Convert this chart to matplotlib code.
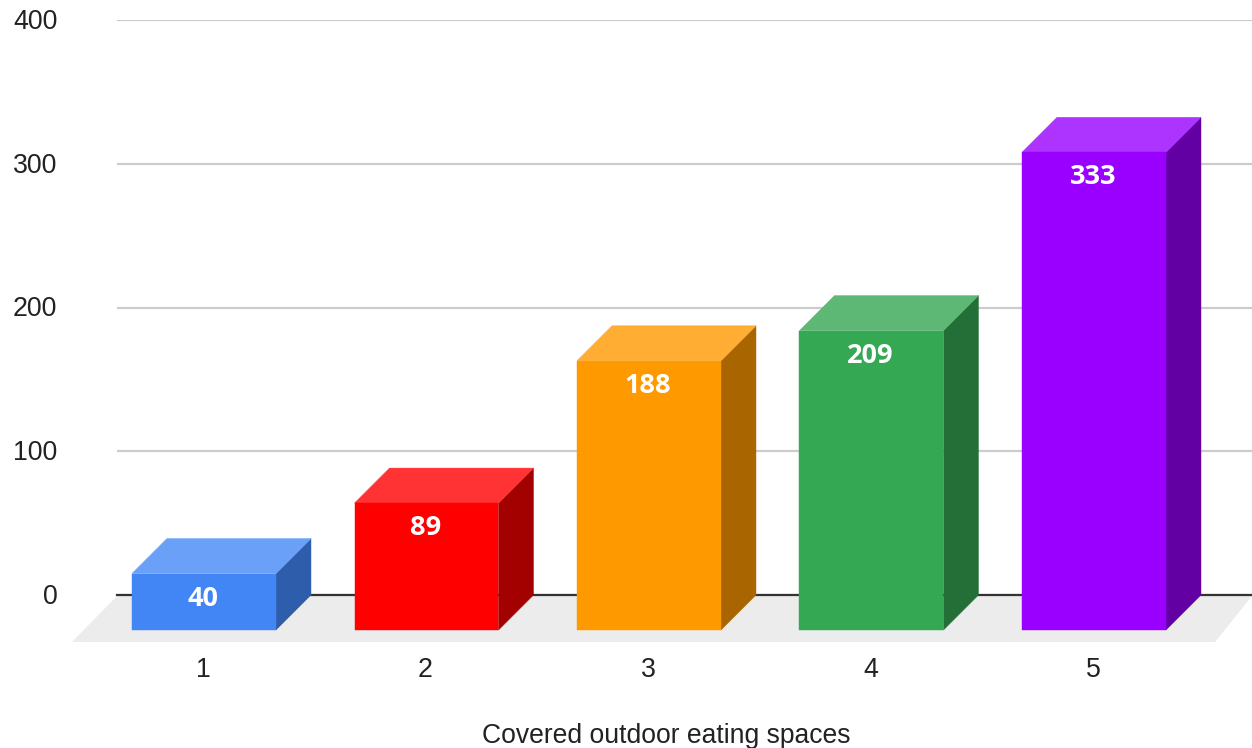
import matplotlib
matplotlib.use("Agg")
import matplotlib.pyplot as plt
from matplotlib.transforms import Affine2D

plt.rcParams['font.family'] = ['Liberation Sans', 'DejaVu Sans']

categories = [1, 2, 3, 4, 5]
values = [40, 89, 188, 209, 333]
front_colors = ['#4285f4', '#ff0000', '#ff9900', '#34a853', '#9900ff']
top_colors = ['#6aa0f7', '#ff3333', '#ffad33', '#5db875', '#ad33ff']
side_colors = ['#2e5dab', '#a30000', '#a86500', '#246f38', '#6200a3']
y_ticks = [0, 100, 200, 300, 400]

W, H = 1252, 748
fig = plt.figure(figsize=(W / 100, H / 100), dpi=100, facecolor='white')
ax = fig.add_axes([117 / W, 1 - 595 / H, (W - 117) / W, (595 - 20) / H])

# pixels per unit on each axis
px_x = 222.5
px_y = 575 / 400
ax.set_ylim(0, 400)
ax.set_xlim(1 - 86 / px_x, 1 + (W - 203) / px_x)

dx = 35 / px_x
dy = 35 / px_y
width = 144 / px_x
shift = 1.0 / px_x
drop = 1 / px_y

for s in ax.spines.values():
    s.set_visible(False)

ax.set_axisbelow(True)
ax.yaxis.grid(True, color='#cccccc', lw=1.6, zorder=0)
ax.xaxis.grid(False)
ax.axhline(0, color='#333333', lw=1.6, zorder=2, clip_on=False)

# floor
x0, x1 = ax.get_xlim()
floor_dx = 45 / px_x
floor_dy = 47 / px_y
ax.fill([x0 - floor_dx, x0, x1, x1 + 8 / px_x - floor_dx],
        [-floor_dy, -drop, -drop, -floor_dy], color='#ececec', lw=0, zorder=1.5, clip_on=False)

for i, (c, v) in enumerate(zip(categories, values)):
    left = c + shift - width / 2
    right = left + width
    top = v - drop
    ax.fill([right, right + dx, right + dx, right], [-dy, 0, top, top - dy],
            color=side_colors[i], ec=side_colors[i], lw=0.3, zorder=3, clip_on=False)
    ax.fill([left, right, right + dx, left + dx], [top - dy, top - dy, top, top],
            color=top_colors[i], ec=top_colors[i], lw=0.3, zorder=3, clip_on=False)
    ax.fill([left, right, right, left], [-dy, -dy, top - dy, top - dy],
            color=front_colors[i], ec=front_colors[i], lw=0.3, zorder=3.1, clip_on=False)
    ax.annotate(str(v), (c, top - dy), xytext=(0, -25 * 0.72), textcoords='offset points',
                ha='center', va='center', color='white', fontsize=19.5,
                fontweight='bold', family='Open Sans', zorder=4)

ax.set_yticks(y_ticks)
ax.set_xticks(categories)
ax.tick_params(axis='both', length=0, labelsize=19.3, labelcolor='#222222')
ax.tick_params(axis='x', pad=44.5)
ax.tick_params(axis='y', pad=43)
for t in ax.get_yticklabels():
    t.set_transform(t.get_transform() + Affine2D().translate(0, 1))

fig.text(666 / W, 1 - 736 / H, 'Covered outdoor eating spaces', ha='center', va='center',
         fontsize=19.1, color='#222222')

fig.savefig('out.png', dpi=100, facecolor='white')
